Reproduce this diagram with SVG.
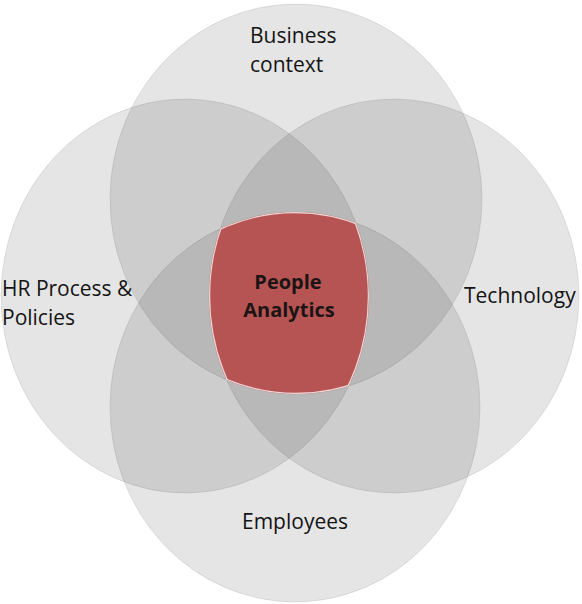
<svg xmlns="http://www.w3.org/2000/svg" width="582" height="604" viewBox="0 0 582 604">
  <style>
    .set { fill: #000; fill-opacity: 0.1; stroke: #000; stroke-opacity: 0.09; stroke-width: 1; }
    .lbl { font-family: "Open Sans", "Liberation Sans", sans-serif; font-size: 21px; fill: #141414; }
    .core { font-family: "Open Sans", "Liberation Sans", sans-serif; font-size: 20px; font-weight: bold; fill: #1c1414; text-anchor: middle; }
    .rim { fill: none; stroke: #f2d6d6; stroke-width: 2.4; }
  </style>
  <defs>
    <clipPath id="cT"><ellipse cx="296" cy="199" rx="186" ry="195"/></clipPath>
    <clipPath id="cB"><ellipse cx="295" cy="407" rx="185" ry="195"/></clipPath>
    <clipPath id="cL"><ellipse cx="185" cy="296" rx="184" ry="197"/></clipPath>
    <clipPath id="cR"><ellipse cx="394" cy="296" rx="185" ry="197"/></clipPath>
  </defs>
  <rect width="582" height="604" fill="#ffffff"/>

  <g id="business-context">
    <ellipse class="set" cx="296" cy="199" rx="186" ry="195"/>
  </g>
  <g id="hr-process">
    <ellipse class="set" cx="185" cy="296" rx="184" ry="197"/>
  </g>
  <g id="technology">
    <ellipse class="set" cx="394" cy="296" rx="185" ry="197"/>
  </g>
  <g id="employees">
    <ellipse class="set" cx="295" cy="407" rx="185" ry="195"/>
  </g>

  <g id="people-analytics">
    <g clip-path="url(#cT)">
      <g clip-path="url(#cB)">
        <g clip-path="url(#cL)">
          <g clip-path="url(#cR)">
            <rect x="150" y="150" width="280" height="300" fill="#b65454"/>
            <ellipse class="rim" cx="296" cy="199" rx="186" ry="195"/>
            <ellipse class="rim" cx="295" cy="407" rx="185" ry="195"/>
            <ellipse class="rim" cx="185" cy="296" rx="184" ry="197"/>
            <ellipse class="rim" cx="394" cy="296" rx="185" ry="197"/>
          </g>
        </g>
      </g>
    </g>
    <text class="core" x="288" y="289">People</text>
    <text class="core" x="289" y="317">Analytics</text>
  </g>

  <g id="labels">
    <text class="lbl" x="250" y="43">Business</text>
    <text class="lbl" x="250" y="72">context</text>
    <text class="lbl" x="2" y="296">HR Process &amp;</text>
    <text class="lbl" x="2" y="325">Policies</text>
    <text class="lbl" x="464" y="303">Technology</text>
    <text class="lbl" x="295" y="529" text-anchor="middle">Employees</text>
  </g>
</svg>
